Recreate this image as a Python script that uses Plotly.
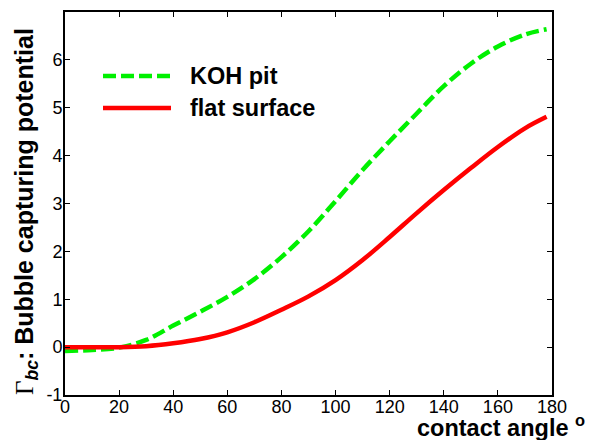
import plotly.graph_objects as go

angle_koh = [0, 10, 20, 30, 40, 50, 60, 70, 80, 90, 100, 110, 120, 130, 140, 150, 160, 170, 178]
koh_pit = [-0.08, -0.06, -0.01, 0.15, 0.45, 0.74, 1.05, 1.42, 1.88, 2.42, 3.05, 3.70, 4.30, 4.88, 5.45, 5.92, 6.28, 6.53, 6.64]
angle_flat = [0, 10, 20, 30, 40, 50, 60, 70, 80, 90, 100, 110, 120, 130, 140, 150, 160, 170, 178]
flat_surface = [0.0, 0.0, 0.0, 0.02, 0.08, 0.17, 0.31, 0.52, 0.78, 1.06, 1.40, 1.82, 2.30, 2.80, 3.28, 3.74, 4.18, 4.57, 4.81]

x_ticks = [0, 20, 40, 60, 80, 100, 120, 140, 160, 180]
y_ticks = [-1, 0, 1, 2, 3, 4, 5, 6, 7]

GREEN = "#00f000"
RED = "#ff0000"
DASH = "13px,5px"
FONT = "Arial, Liberation Sans, Helvetica, sans-serif"
TITLE_SIZE = 23.5
YTITLE_SIZE = 25

fig = go.Figure()
fig.add_trace(go.Scatter(x=angle_koh, y=koh_pit, mode="lines", name="KOH pit",
                         line=dict(color=GREEN, width=4.5, dash=DASH, shape="spline", smoothing=1.0)))
fig.add_trace(go.Scatter(x=angle_flat, y=flat_surface, mode="lines", name="flat surface",
                         line=dict(color=RED, width=4.5, shape="spline", smoothing=1.0)))

# page body has an 8px default margin -> figure sized/offset to compensate
OFF = 8
W, H = 593 - OFF, 440 - OFF
L, R, T, B = 65 - OFF, 41, 12 - OFF, 45
pw, ph = W - L - R, H - T - B

def px2paper_x(px):
    return (px - OFF - L) / pw

def px2paper_y(py):
    return (H - B - (py - OFF)) / ph

# manual legend
legend_items = [("KOH pit", GREEN, DASH, 76), ("flat surface", RED, "solid", 108)]
shapes = []
annotations = []
for name, col, dash, ypx in legend_items:
    shapes.append(dict(type="line", xref="paper", yref="paper",
                       x0=px2paper_x(103), x1=px2paper_x(171),
                       y0=px2paper_y(ypx), y1=px2paper_y(ypx),
                       line=dict(color=col, width=4.5, dash=dash)))
    annotations.append(dict(text=f"<b>{name}</b>", xref="paper", yref="paper",
                            x=px2paper_x(188), y=px2paper_y(ypx), xanchor="left", yanchor="middle",
                            showarrow=False, font=dict(family=FONT, size=TITLE_SIZE, color="black")))

annotations.append(dict(text="<b>contact angle <sup>o</sup></b>", xref="paper", yref="paper",
                        x=px2paper_x(587), y=px2paper_y(426), xanchor="right", yanchor="middle",
                        showarrow=False, font=dict(family=FONT, size=TITLE_SIZE, color="black")))
annotations.append(dict(text="<span style='font-family:Liberation Serif, Times New Roman, serif'>Γ</span><b><i><sub>bc</sub></i>: Bubble capturing potential</b>",
                        xref="paper", yref="paper", textangle=-90,
                        x=px2paper_x(26), y=px2paper_y(212), xanchor="center", yanchor="middle",
                        showarrow=False, font=dict(family=FONT, size=YTITLE_SIZE, color="black")))

fig.update_layout(
    template="none",
    width=W, height=H,
    margin=dict(l=L, r=R, t=T, b=B, autoexpand=False),
    paper_bgcolor="white", plot_bgcolor="white",
    showlegend=False,
    shapes=shapes, annotations=annotations,
    font=dict(family=FONT, size=18, color="black"),
)
axis_style = dict(showgrid=False, zeroline=False, showline=True, linecolor="black", linewidth=2,
                  mirror="ticks", ticks="inside", ticklen=5, tickcolor="black", tickwidth=1,
                  automargin=False, tickfont=dict(family=FONT, size=18, color="black"))
fig.update_xaxes(range=[0, 180], tickvals=x_ticks, ticktext=[str(v) for v in x_ticks], **axis_style)
fig.update_yaxes(range=[-1, 7], tickvals=y_ticks, ticktext=[str(v) for v in y_ticks], **axis_style)

try:
    fig.update_xaxes(ticklabelstandoff=-6)
    fig.update_yaxes(ticklabelstandoff=-3)
except Exception:
    pass

fig.write_html("out.html")
